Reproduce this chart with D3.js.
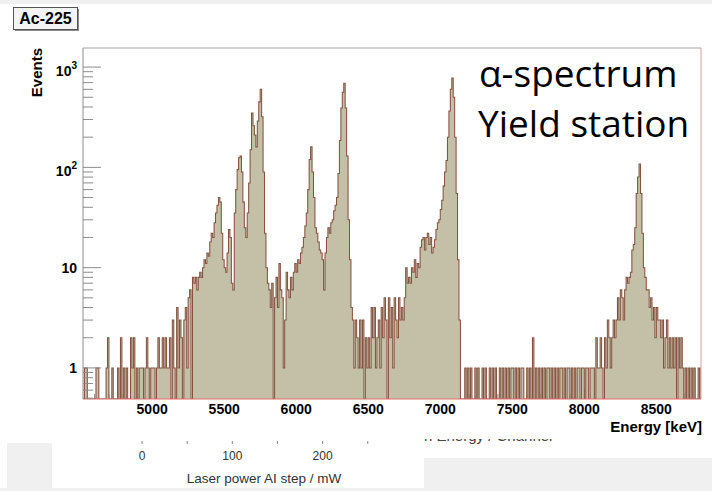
<!DOCTYPE html>
<html>
<head>
<meta charset="utf-8">
<script src="https://cdn.jsdelivr.net/npm/d3@7"></script>
<style>
body { margin: 0; background: #fff; }
svg { display: block; font-family: Arial, "Liberation Sans", Helvetica, sans-serif; }
</style>
</head>
<body>
<div id="chart"></div>
<script>
// histogram: 10 keV bins starting at 4520 keV
var energyStart = 4520,
    binWidth = 10;

var counts = [
    0, 1, 1, 0, 0, 0, 0, 0, 0, 1, 1, 0, 0, 0, 0, 0, 1, 2, 0, 0,                         // 4520
    1, 0, 0, 0, 1, 0, 2, 0, 1, 0, 1, 0, 0, 2, 1, 2, 0, 1, 0, 1,                         // 4720
    1, 1, 0, 1, 2, 1, 0, 1, 1, 1, 0, 1, 2, 1, 1, 2, 1, 2, 1, 1,                         // 4920
    2, 0, 3, 1, 0, 4, 1, 3, 2, 0, 3, 4, 1, 5, 6, 0, 8, 7, 8, 6,                         // 5120
    8, 9, 8, 10, 12, 11, 14, 13, 18, 22, 20, 28, 35, 42, 50, 45, 22, 12, 10, 9,         // 5320
    14, 24, 20, 7, 6, 35, 60, 95, 125, 130, 90, 45, 25, 20, 35, 70, 150, 349, 260, 210, // 5520
    160, 290, 450, 600, 320, 90, 22, 10, 7, 6, 4, 7, 0, 5, 8, 4, 11, 6, 5, 1,           // 5720
    3, 9, 6, 5, 8, 6, 9, 11, 9, 12, 11, 14, 16, 20, 26, 35, 60, 120, 160, 90,           // 5920
    50, 25, 22, 18, 15, 14, 12, 6, 14, 20, 25, 22, 28, 30, 37, 42, 50, 87, 185, 390,    // 6120
    560, 690, 390, 130, 30, 12, 4, 3, 1, 3, 2, 1, 3, 1, 3, 0, 2, 1, 2, 1,               // 6320
    4, 2, 4, 1, 2, 3, 1, 4, 2, 5, 3, 0, 5, 2, 4, 1, 5, 3, 2, 5,                         // 6520
    3, 4, 3, 5, 10, 7, 8, 7, 10, 9, 12, 8, 11, 10, 16, 19, 20, 15, 20, 22,              // 6720
    17, 20, 14, 16, 19, 24, 28, 30, 38, 47, 65, 90, 117, 200, 365, 600, 780, 500, 200, 55, // 6920
    12, 3, 0, 0, 0, 1, 0, 1, 0, 1, 0, 0, 1, 0, 1, 0, 0, 1, 0, 1,                        // 7120
    0, 0, 1, 0, 1, 0, 1, 0, 0, 1, 0, 1, 0, 1, 0, 1, 0, 1, 1, 0,                         // 7320
    1, 0, 1, 0, 1, 1, 0, 0, 1, 0, 1, 0, 2, 0, 1, 0, 1, 0, 1, 0,                         // 7520
    1, 0, 1, 1, 0, 1, 0, 1, 0, 1, 0, 1, 1, 0, 1, 0, 1, 1, 0, 1,                         // 7720
    0, 1, 0, 1, 1, 0, 1, 1, 0, 1, 1, 0, 1, 1, 1, 0, 2, 1, 1, 2,                         // 7920
    1, 0, 2, 1, 3, 2, 1, 2, 3, 2, 3, 5, 3, 6, 5, 3, 6, 8, 7, 8,                         // 8120
    9, 15, 17, 25, 55, 80, 108, 55, 22, 10, 8, 6, 6, 4, 5, 3, 4, 2, 4, 3,               // 8320
    3, 2, 3, 1, 2, 3, 1, 2, 1, 2, 1, 2, 0, 2, 1, 2, 1, 0, 1, 0,                         // 8520
    1, 0, 1, 0, 1, 0, 0, 1, 0, 1                                                        // 8720
];

var xMajorTicks = [5000, 5500, 6000, 6500, 7000, 7500, 8000, 8500];
var yMajorTicks = [1, 10, 100, 1000];
var yTickBase = ["1", "10", "10", "10"];
var yTickExp = ["", "", "2", "3"];
var laserTicks = [0, 50, 100, 150, 200, 250];
var laserLabels = [0, 100, 200];

var margin = {
        top: 48,
        right: 11,
        bottom: 92,
        left: 83
    },
    width = 712 - margin.left - margin.right,
    height = 491 - margin.top - margin.bottom;

var root = d3.select("#chart")
    .append("svg")
    .attr("width", 712)
    .attr("height", 491);

// page pieces around the chart
root.append("rect").attr("x", 0).attr("y", 0).attr("width", 712).attr("height", 4).style("fill", "#f0f0f0");
root.append("rect").attr("x", 7).attr("y", 443).attr("width", 45).attr("height", 45).style("fill", "#f0f0f0");
root.append("rect").attr("x", 424).attr("y", 458).attr("width", 288).attr("height", 30).style("fill", "#f0f0f0");
root.append("rect").attr("x", 0).attr("y", 488).attr("width", 712).attr("height", 3).style("fill", "#f0f0f0");

var svg = root.append("g")
    .attr("transform", "translate(" + margin.left + "," + margin.top + ")");

var x = d3.scaleLinear()
    .domain([4520, 8810])
    .range([0, width]);

var y = d3.scaleLog()
    .domain([0.49, 1550])
    .range([height, 0]);

svg.append("clipPath")
    .attr("id", "plotclip")
    .append("rect")
    .attr("width", width)
    .attr("height", height);

// x ticks sit behind the histogram
var xMinor = d3.range(4600, 8801, 100);
svg.selectAll(".xminor")
    .data(xMinor)
    .enter()
    .append("line")
    .attr("x1", d => x(d))
    .attr("x2", d => x(d))
    .attr("y1", height)
    .attr("y2", d => xMajorTicks.indexOf(d) >= 0 ? height - 10 : height - 5)
    .style("stroke", "#8a8f98")
    .style("stroke-width", 1);

var points = counts.map((c, i) => [energyStart + i * binWidth, c]);
points.push([energyStart + counts.length * binWidth, 0]);

function yv(c) {
    return c > 0 ? y(c) : height;
}

var area = d3.area()
    .x(d => x(d[0]))
    .y0(height)
    .y1(d => yv(d[1]))
    .curve(d3.curveStepAfter);

var outline = d3.line()
    .x(d => x(d[0]))
    .y(d => yv(d[1]))
    .curve(d3.curveStepAfter);

var hist = svg.append("g").attr("clip-path", "url(#plotclip)");
hist.append("path")
    .datum(points)
    .attr("d", area)
    .style("fill", "#c3c0a7");
hist.append("path")
    .datum(points)
    .attr("d", outline)
    .style("fill", "none")
    .style("stroke", "#85533f")
    .style("stroke-width", 1.05);

// frame
svg.append("line").attr("x1", 0).attr("x2", width).attr("y1", 0).attr("y2", 0).style("stroke", "#a5a5a5");
svg.append("line").attr("x1", 0).attr("x2", 0).attr("y1", 0).attr("y2", height).style("stroke", "#8c8c8c");
svg.append("line").attr("x1", 0).attr("x2", width).attr("y1", height).attr("y2", height).style("stroke", "#e06a6a");
svg.append("line").attr("x1", width).attr("x2", width).attr("y1", 0).attr("y2", height).style("stroke", "#e09a9a");

// y axis ticks (log)
var yTicks = y.ticks();
svg.selectAll(".ytick")
    .data(yTicks)
    .enter()
    .append("line")
    .attr("x1", 0)
    .attr("x2", d => yMajorTicks.indexOf(d) >= 0 ? 18 : 10)
    .attr("y1", d => y(d))
    .attr("y2", d => y(d))
    .style("stroke", "#8c8c8c")
    .style("stroke-width", 1);

var ylab = svg.selectAll(".ylabel")
    .data(yMajorTicks)
    .enter()
    .append("text")
    .attr("x", -6)
    .attr("y", (d, i) => y(d) + (yTickExp[i] ? 9 : 5))
    .attr("text-anchor", "end")
    .style("font-size", "14px")
    .style("font-weight", "bold")
    .style("fill", "#000");
ylab.append("tspan").text((d, i) => yTickBase[i]);
ylab.append("tspan")
    .attr("dy", -7)
    .style("font-size", "10px")
    .text((d, i) => yTickExp[i]);

svg.selectAll(".xlabel")
    .data(xMajorTicks)
    .enter()
    .append("text")
    .attr("x", d => x(d))
    .attr("y", height + 15)
    .attr("text-anchor", "middle")
    .style("font-size", "14px")
    .style("font-weight", "bold")
    .text(d => d);

svg.append("text")
    .attr("x", width + 1)
    .attr("y", height + 33)
    .attr("text-anchor", "end")
    .style("font-size", "15px")
    .style("font-weight", "bold")
    .text("Energy [keV]");

root.append("text")
    .attr("transform", "translate(42,48) rotate(-90)")
    .attr("text-anchor", "end")
    .style("font-size", "15px")
    .style("font-weight", "bold")
    .text("Events");

// title pave
root.append("rect").attr("x", 15).attr("y", 9).attr("width", 64).attr("height", 22).style("fill", "#888");
root.append("rect").attr("x", 13.5).attr("y", 7.5).attr("width", 64).attr("height", 22)
    .style("fill", "#f4f4f4").style("stroke", "#555").style("stroke-width", 1);
root.append("text")
    .attr("x", 45.5)
    .attr("y", 24)
    .attr("text-anchor", "middle")
    .style("font-size", "16px")
    .style("font-weight", "bold")
    .text("Ac-225");

// annotation
var note = root.append("text")
    .style("font-family", "'Open Sans', 'Noto Sans', sans-serif")
    .style("font-size", "37px")
    .style("fill", "#000");
note.append("tspan").attr("x", 479).attr("y", 87).text("α-spectrum");
note.append("tspan").attr("x", 478).attr("y", 137).text("Yield station");

// remains of the chart below
var laser = d3.scaleLinear()
    .domain([0, 200])
    .range([142, 322.6]);

root.selectAll(".lt")
    .data(laserTicks)
    .enter()
    .append("line")
    .attr("x1", d => laser(d))
    .attr("x2", d => laser(d))
    .attr("y1", 441)
    .attr("y2", 444)
    .style("stroke", "#888");

root.selectAll(".ll")
    .data(laserLabels)
    .enter()
    .append("text")
    .attr("x", d => laser(d))
    .attr("y", 460)
    .attr("text-anchor", "middle")
    .style("font-size", "12px")
    .style("fill", "#333")
    .text(d => d);

root.append("text")
    .attr("x", 264)
    .attr("y", 483)
    .attr("text-anchor", "middle")
    .style("font-size", "13.5px")
    .style("fill", "#333")
    .text("Laser power AI step / mW");

root.append("clipPath")
    .attr("id", "cutclip")
    .append("rect")
    .attr("x", 90)
    .attr("y", 439)
    .attr("width", 500)
    .attr("height", 8);

root.append("text")
    .attr("clip-path", "url(#cutclip)")
    .attr("x", 424)
    .attr("y", 441)
    .style("font-size", "15px")
    .style("fill", "#444")
    .text("n Energy / Channel");
</script>
</body>
</html>
